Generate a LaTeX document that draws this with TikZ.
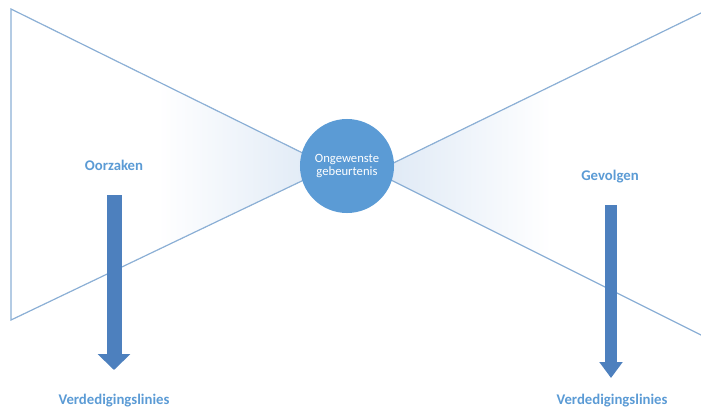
\documentclass[tikz,border=0pt]{standalone}
\usepackage{fontspec}
\setmainfont{Carlito}
\usetikzlibrary{arrows.meta, positioning}
\definecolor{edgeblue}{HTML}{8CB0D6}
\definecolor{hubblue}{HTML}{5B9BD5}
\definecolor{shaftblue}{HTML}{4D80BE}
\definecolor{haze}{HTML}{DDE8F5}
\pgfdeclarehorizontalshading{wingfade}{100bp}{color(0bp)=(white); color(25bp)=(white);
  color(48bp)=(white); color(75bp)=(haze); color(100bp)=(haze)}

\begin{document}
\begin{tikzpicture}[x=0.025cm, y=-0.025cm,
  wing/.style={draw=edgeblue, line width=0.3mm},
  hub/.style={circle, fill=hubblue, minimum size=2.35cm, inner sep=0pt, align=center,
    text=white, font=\fontsize{9}{9}\selectfont},
  tag/.style={anchor=base, text=hubblue, font=\fontsize{10.5}{12}\selectfont\bfseries},
  arrow/.style={draw=shaftblue, line width=3.75mm, -{Triangle[width=8mm, length=4mm]}}
]
\useasboundingbox (0,0) rectangle (701,409);

% Left wing (causes)
\coordinate (lt) at (11,9);
\coordinate (lb) at (11,320);
\coordinate (lm) at (331,167);
\fill[shading=wingfade] (lt) -- (lm) -- (lb) -- cycle;
\draw[wing] (lm) -- (lt) -- (lb) -- (lm);

% Right wing (effects)
\coordinate (rt) at (701,13);
\coordinate (rb) at (701,335);
\coordinate (rm) at (375,172);
\fill[shading=wingfade, shading angle=180] (rt) -- (rm) -- (rb) -- cycle;
\draw[wing] (rt) -- (rm) -- (rb);

% Central event
\node[hub] (event) at (347,166) {Ongewenste\\gebeurtenis};

% Labels
\node[tag] (causes) at (114,170) {Oorzaken};
\node[tag] (effects) at (610,180) {Gevolgen};
\node[tag] (defleft) at (114,404) {Verdedigingslinies};
\node[tag] (defright) at (612,404) {Verdedigingslinies};

% Defence arrows
\coordinate (la) at (114,195);
\coordinate (lz) at (114,370);
\coordinate (ra) at (611,205);
\coordinate (rz) at (611,378);
\draw[arrow] (la) -- (lz);
\draw[arrow, line width=3mm, -{Triangle[width=5.6mm, length=4mm]}] (ra) -- (rz);

\end{tikzpicture}
\end{document}
